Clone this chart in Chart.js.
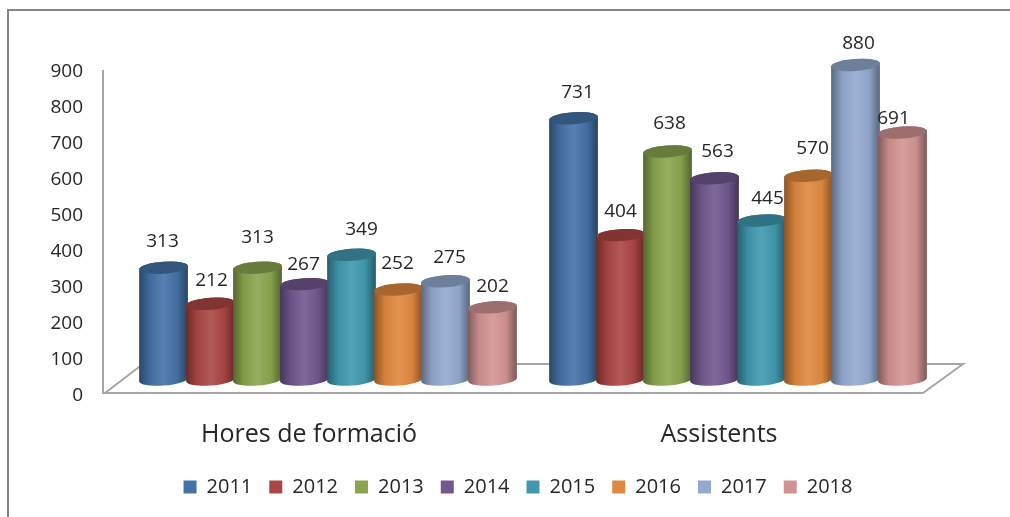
<!DOCTYPE html>
<html>
<head>
<meta charset="utf-8">
<style>
  html, body { margin: 0; background: #fff; }
  #wrap { width: 1010px; height: 517px; }
</style>
<script src="https://cdn.jsdelivr.net/npm/chart.js@4/dist/chart.umd.js"></script>
</head>
<body>
<div id="wrap"><canvas id="chart" width="1010" height="517"></canvas></div>
<script>
const categories = ['Hores de formació', 'Assistents'];
const years = ['2011', '2012', '2013', '2014', '2015', '2016', '2017', '2018'];
const hores = [313, 212, 313, 267, 349, 252, 275, 202];
const assistents = [731, 404, 638, 563, 445, 570, 880, 691];
const colors = ['#4572a7', '#aa4643', '#89a54e', '#71588f', '#4198af', '#e0883f', '#93a9cf', '#d19392'];

// the labels in the picture were placed by hand: [dx, lift] from the top of each bar
const horesLabelShift = [[-1, 26], [1, 23], [0, 30], [-1, 20], [10, 25], [-1, 26], [4, 24], [0, 21]];
const assistentsLabelShift = [[4, 26], [0, 24], [2, 28], [3, 27], [6, 22], [4, 27], [3, 21], [-9, 14]];

const textColor = '#262626';
const fontFamily = '"Open Sans", sans-serif';
const ELLIPSE_RY = 6;
const TILT = -0.07;

function shade(hex, k) {
  const n = parseInt(hex.slice(1), 16);
  const target = k < 0 ? 0 : 255;
  const a = Math.abs(k);
  const ch = s => Math.round(((n >> s) & 255) * (1 - a) + target * a);
  return `rgb(${ch(16)}, ${ch(8)}, ${ch(0)})`;
}

// bar element drawn as a 3D cylinder, from the geometry the bar controller gives it
class CylinderElement extends Chart.BarElement {
  draw(ctx) {
    const { x, y, base, width } = this.getProps(['x', 'y', 'base', 'width'], true);
    const color = this.options.backgroundColor;
    const rx = width / 2;
    const side = ctx.createLinearGradient(x - rx, 0, x + rx, 0);
    side.addColorStop(0, shade(color, -0.38));
    side.addColorStop(0.22, shade(color, -0.06));
    side.addColorStop(0.5, shade(color, 0.1));
    side.addColorStop(0.78, shade(color, -0.04));
    side.addColorStop(1, shade(color, -0.4));
    ctx.save();
    ctx.beginPath();
    ctx.ellipse(x, base, rx, ELLIPSE_RY, TILT, 0, Math.PI);
    ctx.ellipse(x, y, rx, ELLIPSE_RY, TILT, Math.PI, Math.PI * 2);
    ctx.closePath();
    ctx.fillStyle = side;
    ctx.fill();
    ctx.beginPath();
    ctx.ellipse(x, y, rx, ELLIPSE_RY, TILT, 0, Math.PI * 2);
    ctx.fillStyle = shade(color, -0.25);
    ctx.fill();
    ctx.restore();
  }
}
CylinderElement.id = 'cylinderBar';

class CylinderController extends Chart.BarController {}
CylinderController.id = 'cylinder';
CylinderController.defaults = { dataElementType: 'cylinderBar' };
CylinderController.overrides = Chart.BarController.overrides;

Chart.register(CylinderElement, CylinderController);

// outer frame, y axis line and the 3D floor, then the bars from left to right
// so each cylinder overlaps the one before it (chart.js would paint them in reverse)
const backdrop = {
  id: 'backdrop',
  beforeDatasetsDraw(chart) {
    const { ctx } = chart;
    ctx.save();
    ctx.strokeStyle = '#868686';
    ctx.lineWidth = 2;
    ctx.beginPath();
    ctx.moveTo(8, 517);
    ctx.lineTo(8, 10);
    ctx.lineTo(1010, 10);
    ctx.stroke();
    ctx.strokeStyle = '#a6a6a6';
    ctx.beginPath();
    ctx.moveTo(103, 70);
    ctx.lineTo(103, 393);
    ctx.lineTo(923, 393);
    ctx.lineTo(963, 364);
    ctx.lineTo(143, 364);
    ctx.lineTo(105, 393);
    ctx.stroke();
    ctx.restore();
    years.forEach((year, i) => chart.getDatasetMeta(i).controller.draw());
    return false;
  }
};

// value labels above the cylinders
const valueLabels = {
  id: 'valueLabels',
  afterDraw(chart) {
    const { ctx } = chart;
    const shifts = [horesLabelShift, assistentsLabelShift];
    ctx.save();
    ctx.font = `19px ${fontFamily}`;
    ctx.fillStyle = textColor;
    ctx.textAlign = 'center';
    ctx.textBaseline = 'middle';
    chart.data.datasets.forEach((ds, i) => {
      chart.getDatasetMeta(i).data.forEach((bar, j) => {
        const [dx, lift] = shifts[j][i];
        ctx.fillText(ds.data[j], bar.x + dx, bar.y - lift);
      });
    });
    ctx.restore();
  }
};

new Chart(document.getElementById('chart'), {
  type: 'cylinder',
  data: {
    labels: categories,
    datasets: years.map((year, i) => ({
      label: year,
      data: [hores[i], assistents[i]],
      backgroundColor: colors[i],
      yAxisID: 'depth',
      categoryPercentage: 0.917,
      barPercentage: 1.04
    }))
  },
  plugins: [backdrop, valueLabels],
  options: {
    responsive: false,
    animation: false,
    layout: { padding: { left: 26, right: 0, top: 51, bottom: 10 } },
    plugins: {
      tooltip: { enabled: false },
      legend: {
        position: 'bottom',
        labels: {
          boxWidth: 13,
          boxHeight: 13,
          padding: 17,
          color: textColor,
          font: { family: fontFamily, size: 20 }
        }
      }
    },
    scales: {
      x: {
        grid: { display: false, drawTicks: false },
        border: { display: false },
        ticks: { color: textColor, padding: 24, labelOffset: -19, font: { family: fontFamily, size: 25 } },
        afterFit: s => { s.height = 64; }
      },
      y: {
        min: 0,
        max: 955.7,
        grid: { display: false, drawTicks: false },
        border: { display: false },
        ticks: {
          stepSize: 100,
          includeBounds: false,
          padding: 40,
          color: textColor,
          font: { family: fontFamily, size: 19 }
        },
        afterFit: s => { s.width = 97; }
      },
      // bars stand on the floor's depth, above the axis zero
      depth: {
        position: 'right',
        min: -46,
        max: 918,
        grid: { display: false, drawTicks: false },
        border: { display: false },
        ticks: { display: false },
        afterFit: s => { s.width = 67; }
      }
    }
  }
});
</script>
</body>
</html>
